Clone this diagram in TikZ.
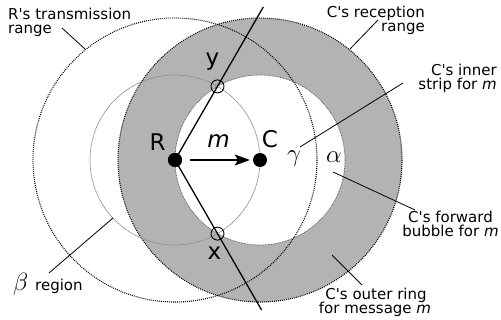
\documentclass[tikz,border=0pt]{standalone}
\usepackage{fontspec}
\setmainfont{DejaVu Sans}[Ligatures=TeXOff]
\usetikzlibrary{arrows.meta}
\definecolor{ringgray}{RGB}{179,179,179}
\definecolor{thingray}{RGB}{140,140,140}
\begin{document}
\begin{tikzpicture}[x=1pt,y=-1pt,
  dot/.style={circle,fill=black,minimum size=14pt,inner sep=0pt},
  hit/.style={circle,draw=black,line width=0.9pt,minimum size=13pt,inner sep=0pt},
  bigdots/.style={line width=1.1pt,dash pattern=on 0.9pt off 1.1pt},
  innerdots/.style={draw=black!65,line width=0.7pt,dash pattern=on 0.8pt off 0.8pt},
  thincirc/.style={draw=thingray,line width=0.7pt,dash pattern=on 1.5pt off 0.5pt},
  leader/.style={line width=0.8pt},
  ray/.style={line width=1.3pt},
  lbl/.style={font=\fontsize{15}{14}\selectfont,inner sep=0pt},
  biglbl/.style={font=\fontsize{23}{23}\selectfont,inner sep=0pt,anchor=base},
  greek/.style={font=\fontsize{23}{23}\selectfont,inner sep=0pt,anchor=base}]
\useasboundingbox (0,0) rectangle (501,320);
% annulus of C
\fill[ringgray,even odd rule] (260,160) circle[radius=142] (260,160) circle[radius=85];
\draw[bigdots] (260,160) circle[radius=142];
\draw[innerdots] (260,160) circle[radius=85];
% thin circle around R
\draw[thincirc] (175,160) circle[radius=85];
% R's transmission range
\draw[bigdots] (175,160) circle[radius=142];
% coordinates
\coordinate (ytop) at (263.3,7);
\coordinate (xbot) at (261.6,310);
% dots
\node[dot] (R) at (175,160) {};
\node[dot] (C) at (260,160) {};
% rays
\draw[ray] (R.center) -- (ytop);
\draw[ray] (R.center) -- (xbot);
\node[hit] (yp) at (217.5,86.4) {};
\node[hit] (xp) at (217.5,233.6) {};
\node[dot] at (R) {};
% message arrow
\draw[line width=1.3pt,-{Stealth[length=15pt,width=11pt,inset=3pt]},shorten <=8pt,shorten >=3pt] (R) -- (C);
% big labels
\node[biglbl] (Rl) at (157.5,151) {R};
\node[biglbl] (Cl) at (270,147.5) {C};
\node[biglbl] (ml) at (218.5,148) {\itshape m};
\node[biglbl] (yl) at (212.5,66) {y};
\node[biglbl] (xl) at (214.5,260) {x};
\node[greek] (gam) at (294,162) {$\gamma$};
\node[greek] (alp) at (334,163) {$\alpha$};
% annotation texts
\node[lbl,anchor=base west] (t1a) at (8,20) {R's transmission};
\node[lbl,anchor=base west] (t1b) at (8,33.5) {range};
\node[lbl,anchor=base east] (t2a) at (425,18) {C's reception};
\node[lbl,anchor=base east] (t2b) at (425,32) {range};
\node[lbl,anchor=base east] (t3a) at (497,76) {C's inner};
\node[lbl,anchor=base east] (t3b) at (497,90) {strip for \textit{m}};
\node[lbl,anchor=base] (t4a) at (450.5,223) {C's forward};
\node[lbl,anchor=base] (t4b) at (450.5,237) {bubble for \textit{m}};
\node[lbl,anchor=base] (t5a) at (376,300) {C's outer ring};
\node[lbl,anchor=base] (t5b) at (375,314) {for message \textit{m}};
\node[greek,font=\fontsize{26}{26}\selectfont,anchor=base west] (bet) at (13,291) {$\beta$};
\node[lbl,anchor=base west] (t6) at (35,291) {region};
% leader lines
\coordinate (l1a) at (62,28);  \coordinate (l1b) at (85,49);
\coordinate (l2a) at (378,20); \coordinate (l2b) at (350,49);
\coordinate (l3a) at (403,83); \coordinate (l3b) at (300,147);
\coordinate (l4a) at (333,172);\coordinate (l4b) at (415,210);
\coordinate (l5a) at (332,255);\coordinate (l5b) at (362,285);
\coordinate (l6a) at (49,273); \coordinate (l6b) at (113,218);
\draw[leader] (l1a) -- (l1b);
\draw[leader] (l2a) -- (l2b);
\draw[leader] (l3a) -- (l3b);
\draw[leader] (l4a) -- (l4b);
\draw[leader] (l5a) -- (l5b);
\draw[leader] (l6a) -- (l6b);
\end{tikzpicture}
\end{document}
